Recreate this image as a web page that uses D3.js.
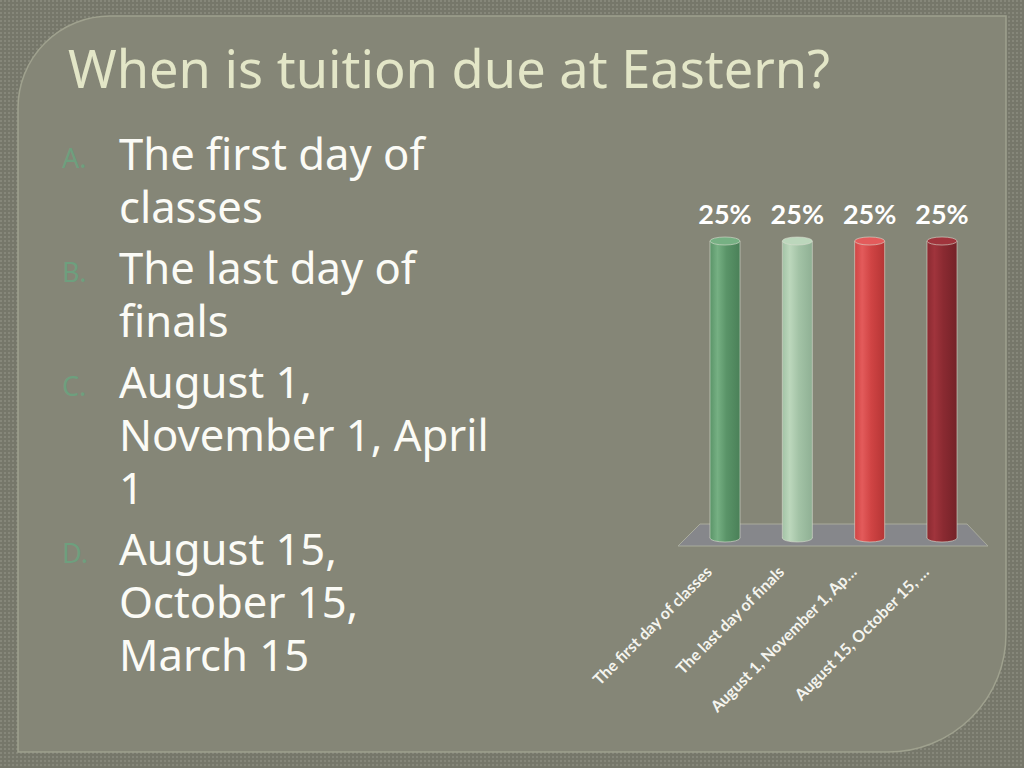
<!DOCTYPE html>
<html lang="en">
<head>
    <meta charset="UTF-8">
    <title>When is tuition due at Eastern?</title>
    <style>
        html, body { margin: 0; padding: 0; background: #7a7b6c; }
        svg { display: block; }
    </style>
</head>
<body>
    <div id="graphic"></div>

    <script src="https://cdn.jsdelivr.net/npm/d3@7"></script>
    <script>
        var width = 1024;
        var height = 768;

        // slide text
        var title = 'When is tuition due at Eastern?';
        var letters = ['A.', 'B.', 'C.', 'D.'];
        var answerLines = [
            ['The first day of', 'classes'],
            ['The last day of', 'finals'],
            ['August 1,', 'November 1, April', '1'],
            ['August 15,', 'October 15,', 'March 15']
        ];

        // chart data
        var categories = ['The first day of classes', 'The last day of finals', 'August 1, November 1, Ap\u2026', 'August 15, October 15, \u2026'];
        var percents = [25, 25, 25, 25];
        var barColors = [
            ['#76b083', '#5a9468', '#4a8058'],
            ['#bcd7bc', '#a3c3a6', '#8fb094'],
            ['#e35b5b', '#d04444', '#b53535'],
            ['#a0343c', '#8a2a31', '#742228']
        ];

        var svg = d3.select('#graphic')
            .append('svg')
            .attr('width', width)
            .attr('height', height);

        var defs = svg.append('defs');

        // dotted texture of the slide background
        var pat = defs.append('pattern')
            .attr('id', 'dots')
            .attr('width', 4)
            .attr('height', 4)
            .attr('patternUnits', 'userSpaceOnUse');
        pat.append('rect').attr('width', 4).attr('height', 4).attr('fill', '#76776a');
        pat.append('rect').attr('width', 2).attr('height', 2).attr('fill', '#86877a');

        svg.append('rect')
            .attr('width', width)
            .attr('height', height)
            .attr('fill', 'url(#dots)');

        // panel with two rounded corners
        var px0 = 18, py0 = 16, px1 = 1006, py1 = 752, r1 = 92, r2 = 118;
        var panel = d3.path();
        panel.moveTo(px0, py0 + r1);
        panel.arcTo(px0, py0, px0 + r1, py0, r1);
        panel.lineTo(px1, py0);
        panel.lineTo(px1, py1 - r2);
        panel.arcTo(px1, py1, px1 - r2, py1, r2);
        panel.lineTo(px0, py1);
        panel.closePath();

        svg.append('path')
            .attr('d', panel.toString())
            .attr('fill', '#858677')
            .attr('stroke', '#9fa18e')
            .attr('stroke-width', 1.5);

        // sets the font size of a text so that it spans the wanted width
        function fitWidth(sel, target) {
            var w = sel.node().getComputedTextLength();
            var fs = +sel.attr('font-size');
            return fs * target / w;
        }

        // title
        var titleText = svg.append('text')
            .attr('x', 68)
            .attr('y', 88)
            .attr('font-family', 'Noto Sans')
            .attr('font-size', 100)
            .attr('fill', '#e3e6c7')
            .text(title);
        titleText.attr('font-size', fitWidth(titleText, 762));

        // answer list: size taken from the widest line
        var probe = svg.append('text')
            .attr('font-family', 'Noto Sans')
            .attr('font-size', 100)
            .text('November 1, April');
        var listSize = fitWidth(probe, 370);
        probe.remove();

        var lineH = 53, itemGap = 8;
        var y = 170;
        answerLines.forEach(function(lines, i) {
            svg.append('text')
                .attr('x', 62)
                .attr('y', y - 2)
                .attr('font-family', 'Noto Sans')
                .attr('font-size', 27)
                .attr('fill', '#6e9f7e')
                .text(letters[i]);
            lines.forEach(function(line, j) {
                svg.append('text')
                    .attr('x', 119)
                    .attr('y', y + j * lineH)
                    .attr('font-family', 'Noto Sans')
                    .attr('font-size', listSize)
                    .attr('fill', '#fbfbf6')
                    .text(line);
            });
            y += lines.length * lineH + itemGap;
        });

        // chart
        var x = d3.scaleBand()
            .domain(categories)
            .range([689, 978])
            .paddingInner(0.585)
            .paddingOuter(0.29);

        var yScale = d3.scaleLinear()
            .domain([0, 25])
            .range([538, 241]);

        var base = yScale(0);
        var ry = 4;

        // floor
        var fl = x.range();
        svg.append('polygon')
            .attr('points', [
                [fl[0] + 11, base - 14],
                [fl[1] - 11, base - 14],
                [fl[1] + 10, base + 8],
                [fl[0] - 11, base + 8]
            ].map(function(p) { return p.join(','); }).join(' '))
            .attr('fill', '#86878b')
            .attr('stroke', '#a9ab9c')
            .attr('stroke-width', 1);

        // gradients for the cylinders
        barColors.forEach(function(c, i) {
            var g = defs.append('linearGradient')
                .attr('id', 'cyl' + i)
                .attr('x1', '0%').attr('x2', '100%')
                .attr('y1', '0%').attr('y2', '0%');
            g.append('stop').attr('offset', '0%').attr('stop-color', c[1]);
            g.append('stop').attr('offset', '25%').attr('stop-color', c[0]);
            g.append('stop').attr('offset', '55%').attr('stop-color', c[1]);
            g.append('stop').attr('offset', '100%').attr('stop-color', c[2]);
        });

        var bars = svg.selectAll('.bar')
            .data(percents)
            .join('g')
            .attr('class', 'bar');

        // bottom cap
        bars.append('ellipse')
            .attr('cx', function(d, i) { return x(categories[i]) + x.bandwidth() / 2; })
            .attr('cy', base)
            .attr('rx', x.bandwidth() / 2)
            .attr('ry', ry)
            .attr('fill', function(d, i) { return 'url(#cyl' + i + ')'; })
            .attr('stroke', '#d9dccf')
            .attr('stroke-opacity', 0.6)
            .attr('stroke-width', 1);

        // body
        bars.append('rect')
            .attr('x', function(d, i) { return x(categories[i]); })
            .attr('y', function(d) { return yScale(d); })
            .attr('width', x.bandwidth())
            .attr('height', function(d) { return base - yScale(d); })
            .attr('fill', function(d, i) { return 'url(#cyl' + i + ')'; });

        // side edges
        bars.append('path')
            .attr('d', function(d, i) {
                var x0 = x(categories[i]), x1 = x0 + x.bandwidth();
                return 'M' + x0 + ',' + yScale(d) + 'V' + base + 'M' + x1 + ',' + yScale(d) + 'V' + base;
            })
            .attr('stroke', '#d9dccf')
            .attr('stroke-opacity', 0.6)
            .attr('stroke-width', 1);

        // top cap
        bars.append('ellipse')
            .attr('cx', function(d, i) { return x(categories[i]) + x.bandwidth() / 2; })
            .attr('cy', function(d) { return yScale(d); })
            .attr('rx', x.bandwidth() / 2)
            .attr('ry', ry)
            .attr('fill', function(d, i) { return barColors[i][0]; })
            .attr('stroke', '#d9dccf')
            .attr('stroke-opacity', 0.6)
            .attr('stroke-width', 1);

        // value labels
        svg.selectAll('.value')
            .data(percents)
            .join('text')
            .attr('class', 'value')
            .attr('x', function(d, i) { return x(categories[i]) + x.bandwidth() / 2; })
            .attr('y', function(d) { return yScale(d) - 17; })
            .attr('text-anchor', 'middle')
            .attr('font-family', 'Lato')
            .attr('font-weight', 'bold')
            .attr('font-size', 27)
            .attr('fill', '#ffffff')
            .text(function(d) { return d + '%'; });

        // rotated category labels
        svg.selectAll('.cat')
            .data(categories)
            .join('text')
            .attr('class', 'cat')
            .attr('text-anchor', 'end')
            .attr('font-family', 'Lato')
            .attr('font-weight', 'bold')
            .attr('font-size', 16)
            .attr('fill', '#f4f4ee')
            .attr('transform', function(d) {
                var cx = x(d) + x.bandwidth() / 2 - 12;
                return 'translate(' + cx + ',' + (base + 35) + ') rotate(-45)';
            })
            .text(function(d) { return d; });
    </script>
</body>
</html>
